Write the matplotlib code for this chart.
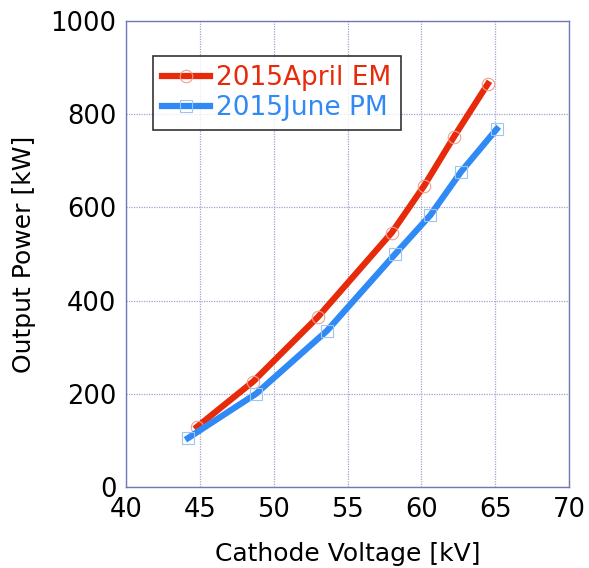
import matplotlib.pyplot as plt

# data
april_v = [44.8, 48.6, 53.0, 58.0, 60.2, 62.2, 64.5]
april_p = [129, 226, 365, 546, 647, 751, 865]
june_v = [44.2, 48.8, 53.6, 58.2, 60.6, 62.7, 65.1]
june_p = [105, 200, 335, 499, 583, 677, 768]

xticks = [40, 45, 50, 55, 60, 65, 70]
yticks = [0, 200, 400, 600, 800, 1000]

red = "#e62a0a"
blue = "#2f8af5"
frame = "#7078b8"

fig = plt.figure(figsize=(5.89, 5.68), dpi=100)
ax = fig.add_axes([0.214, 0.1426, 0.752, 0.8204])

ax.plot(april_v, april_p, color=red, lw=4.5, marker="o", ms=9,
        mfc="none", mec="#f0a090", mew=0.8, label="2015April EM", zorder=3)
ax.plot(june_v, june_p, color=blue, lw=4.5, marker="s", ms=8,
        mfc="none", mec="#a0c4f0", mew=0.8, label="2015June PM", zorder=3)

ax.set_xlim(40, 70)
ax.set_ylim(0, 1000)
ax.set_xticks(xticks)
ax.set_yticks(yticks)
ax.tick_params(length=0, labelsize=18.5, pad=7)
ax.grid(True, color="#a0a6d0", ls=(0, (1, 1)), lw=0.9)
for s in ax.spines.values():
    s.set_color(frame)
    s.set_linewidth(1.0)

ax.set_xlabel("Cathode Voltage [kV]", fontsize=18, labelpad=14)
ax.set_ylabel("Output Power [kW]", fontsize=18, labelpad=10)

leg = ax.legend(loc="upper left", bbox_to_anchor=(0.061, 0.925), fontsize=19,
                labelcolor="linecolor", frameon=True, fancybox=False,
                edgecolor="black", handlelength=1.8, borderpad=0.35,
                labelspacing=0.15, handletextpad=0.25, borderaxespad=0)
leg.get_frame().set_linewidth(1.2)

fig.savefig("out.png", dpi=100)
